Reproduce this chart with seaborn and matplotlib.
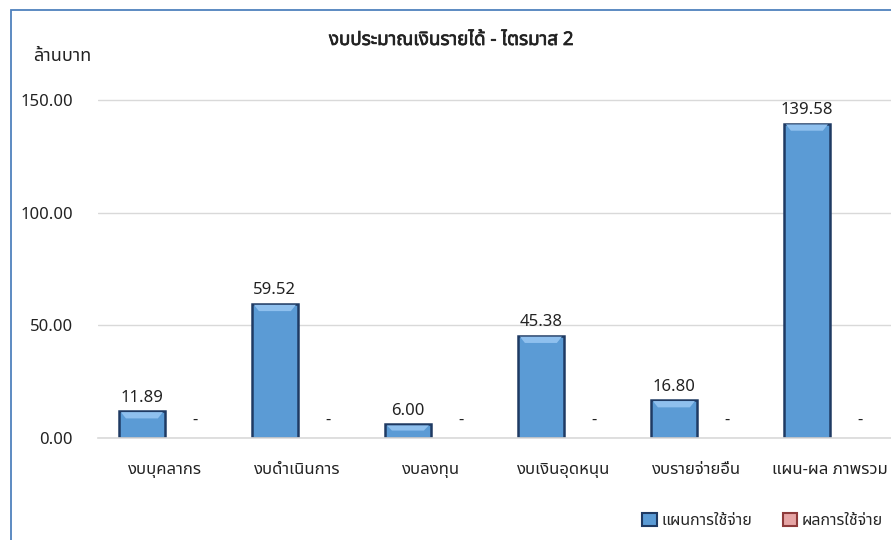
import pandas as pd
import numpy as np
import seaborn as sns
import matplotlib
matplotlib.use("Agg")
from matplotlib import pyplot as plt
from matplotlib.patches import Rectangle, Patch, Polygon
import matplotlib.patheffects as pe

categories = ["งบบุคลากร", "งบดำเนินการ", "งบลงทุน", "งบเงินอุดหนุน", "งบรายจ่ายอื่น", "แผน-ผล ภาพรวม"]
plan_values = [11.89, 59.52, 6.00, 45.38, 16.80, 139.58]
actual_values = [0, 0, 0, 0, 0, 0]
series_names = ["แผนการใช้จ่าย", "ผลการใช้จ่าย"]
series_colors = ["#5B9BD5", "#E6A5A5"]
edge_colors = ["#1F3A63", "#8E3B3B"]
highlight_colors = ["#8FC0EE", "#F2CACA"]

sns.set_theme(style="white")
plt.rcParams["font.family"] = ["Noto Sans Thai", "Tahoma", "Loma", "Garuda", "DejaVu Sans"]

df = pd.DataFrame({
    "category": categories * 2,
    "value": plan_values + actual_values,
    "series": [series_names[0]] * len(categories) + [series_names[1]] * len(categories),
})

fig = plt.figure(figsize=(8.91, 5.4), dpi=100)
ax = fig.add_axes([98 / 891, 102 / 540, 798 / 891, 0.6676])

sns.barplot(data=df, x="category", y="value", hue="series", order=categories,
            hue_order=series_names, palette=series_colors, width=0.68,
            ax=ax, legend=False, saturation=1)

# dark bevel edges plus a lighter top facet, nothing for empty bars
for cont, ec, hc in zip(ax.containers, edge_colors, highlight_colors):
    for bar in cont:
        h = bar.get_height()
        bar.set_edgecolor(ec)
        bar.set_linewidth(1.8 if h > 0 else 0)
        if h > 0:
            x0, w = bar.get_x(), bar.get_width()
            band = min(3.2, h * 0.45)
            ax.add_patch(Polygon([(x0 + 0.012, h - 0.4), (x0 + w - 0.012, h - 0.4),
                                  (x0 + w - 0.05, h - band), (x0 + 0.05, h - band)],
                                 closed=True, facecolor=hc, edgecolor="none", zorder=bar.get_zorder() + 0.1))

# value labels
for cont in ax.containers:
    for bar in cont:
        v = bar.get_height()
        x = bar.get_x() + bar.get_width() / 2
        if v > 0:
            ax.annotate(f"{v:.2f}", (x, v), xytext=(0, 4), textcoords="offset points",
                        ha="center", va="bottom", fontsize=12, color="#222222")
        else:
            ax.annotate("-", (x, 0), xytext=(6, 7), textcoords="offset points",
                        ha="center", va="bottom", fontsize=12, color="#222222")

ax.set_ylim(0, 160)
ax.set_yticks([0, 50, 100, 150])
ax.set_yticklabels([f"{t:.2f}" for t in [0, 50, 100, 150]], fontsize=12, color="#222222")
ax.tick_params(axis="y", length=0, pad=18)
ax.tick_params(axis="x", length=0, pad=17, labelsize=12, colors="#222222")
ax.yaxis.grid(True, color="#D9D9D9", linewidth=1)
ax.set_axisbelow(True)
for s in ["top", "right", "left"]:
    ax.spines[s].set_visible(False)
ax.spines["bottom"].set_color("#D9D9D9")
ax.spines["bottom"].set_linewidth(1.2)
ax.set_xlabel("")
ax.set_ylabel("")

fig.text(33 / 891, 1 - 56 / 540, "ล้านบาท", fontsize=13, va="center", ha="left", color="#222222")
fig.text(451 / 891, 1 - 40 / 540, "งบประมาณเงินรายได้ - ไตรมาส 2", fontsize=13.5,
         fontweight="bold", ha="center", va="center", color="#222222",
         path_effects=[pe.withStroke(linewidth=0.5, foreground="#222222")])

handles = [Patch(facecolor=c, edgecolor=e, linewidth=1.5) for c, e in zip(series_colors, edge_colors)]
fig.legend(handles, series_names, loc="center right", bbox_to_anchor=(1.0, 1 - 521 / 540),
           ncol=2, frameon=False, fontsize=11.5, handlelength=0.9, handleheight=0.9,
           handletextpad=0.3, columnspacing=1.9, borderaxespad=0.1)

# chart frame
fig.patches.append(Rectangle((11 / 891, -0.1), 1.2, 1 - 10 / 540 + 0.1, transform=fig.transFigure,
                             fill=False, edgecolor="#4F81BD", linewidth=1.3))

fig.savefig("out.png", dpi=100)
